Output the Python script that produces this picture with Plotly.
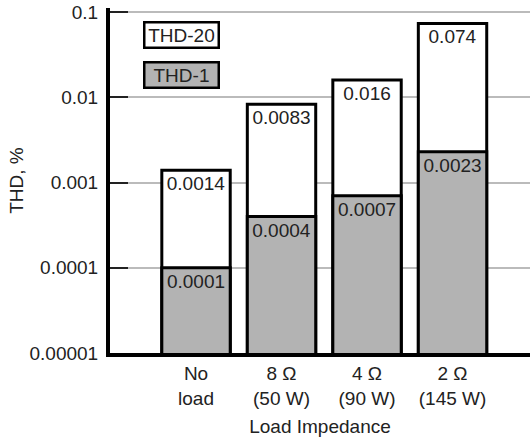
import plotly.graph_objects as go

categories = ["No<br>load", "8 Ω<br>(50 W)", "4 Ω<br>(90 W)", "2 Ω<br>(145 W)"]
thd20 = [0.0014, 0.0083, 0.016, 0.074]
thd1 = [0.0001, 0.0004, 0.0007, 0.0023]
thd20_labels = ["0.0014", "0.0083", "0.016", "0.074"]
thd1_labels = ["0.0001", "0.0004", "0.0007", "0.0023"]
ytick_vals = [0.00001, 0.0001, 0.001, 0.01, 0.1]
ytick_text = ["0.00001", "0.0001", "0.001", "0.01", "0.1"]

FONT = "Liberation Sans, Arial, sans-serif"
TXT = "#222222"
GRAY = "#b3b3b3"
GRID = "#bbbbbb"
FS = 19

fig = go.Figure()
fig.add_trace(go.Bar(
    name="THD-20", x=categories, y=thd20, text=thd20_labels,
    textposition="inside", insidetextanchor="end", textangle=0,
    textfont=dict(family=FONT, size=FS, color=TXT),
    marker=dict(color="white", line=dict(color="black", width=3)),
    width=0.8, constraintext="none",
))
fig.add_trace(go.Bar(
    name="THD-1", x=categories, y=thd1, text=thd1_labels,
    textposition="inside", insidetextanchor="end", textangle=0,
    textfont=dict(family=FONT, size=FS, color=TXT),
    marker=dict(color=GRAY, line=dict(color="black", width=3)),
    width=0.8, constraintext="none",
))

fig.update_layout(
    width=530, height=442,
    margin=dict(l=110, r=0, t=8, b=89),
    barmode="overlay",
    showlegend=False,
    plot_bgcolor="white", paper_bgcolor="white",
    font=dict(family=FONT, size=FS, color=TXT),
    uniformtext=dict(mode=False),
)
fig.update_xaxes(
    type="category", range=[-1.006, 3.906], automargin=False,
    showline=True, linecolor="black", linewidth=4,
    showgrid=False, ticks="", tickfont=dict(size=FS, color=TXT),
    title=dict(text="Load Impedance", font=dict(size=FS, color=TXT), standoff=13),
)
fig.update_yaxes(
    type="log", range=[-5, -0.95], automargin=False,
    tickvals=ytick_vals, ticktext=ytick_text,
    showline=True, linecolor="black", linewidth=4,
    showgrid=True, gridcolor=GRID, gridwidth=1.5,
    ticks="inside", ticklen=18, tickwidth=1.5, tickcolor="#222222",
    ticklabelstandoff=4,
    tickfont=dict(size=FS, color=TXT),
    title=dict(text="THD, %", font=dict(size=FS, color=TXT), standoff=2),
)

# top gridline (at the highest tick value), drawn beneath the bars
fig.add_shape(
    type="line", xref="paper", yref="y", x0=0, x1=1,
    y0=ytick_vals[-1], y1=ytick_vals[-1], layer="below",
    line=dict(color=GRID, width=1.5),
)

for label, color, ytop in [("THD-20", "white", 0.963), ("THD-1", GRAY, 0.847)]:
    fig.add_annotation(
        xref="paper", yref="paper", x=0.0786, y=ytop,
        xanchor="left", yanchor="top", text=label, showarrow=False,
        font=dict(family=FONT, size=FS, color=TXT),
        bgcolor=color, bordercolor="black", borderwidth=2.5, borderpad=1,
        width=70, height=21, align="center",
    )

fig.write_html(
    "out.html",
    config={"displayModeBar": False},
    post_script="document.body.style.margin='0';document.body.style.overflow='hidden';",
)
